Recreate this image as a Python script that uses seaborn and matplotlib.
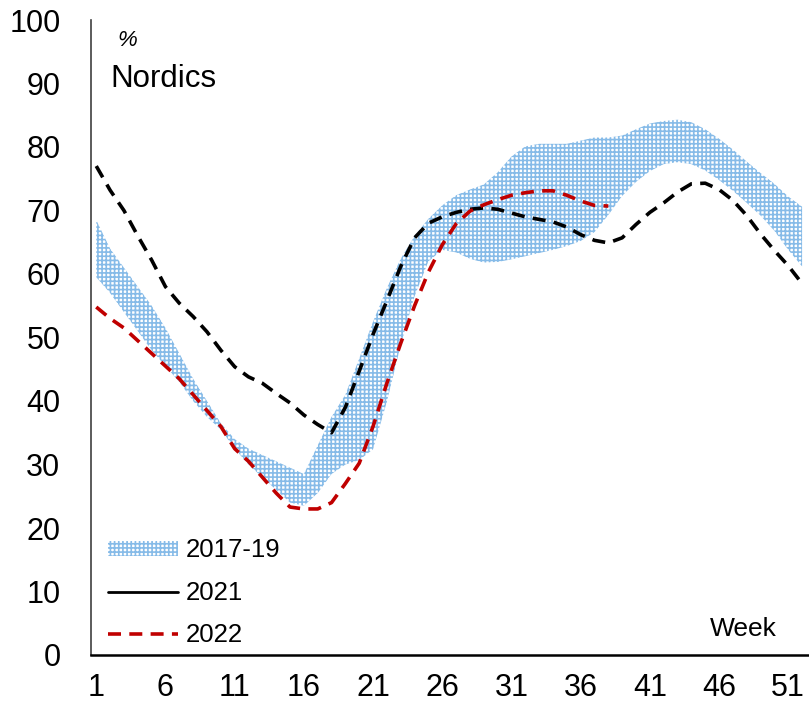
import numpy as np
import pandas as pd
import matplotlib
matplotlib.use("Agg")
import matplotlib.pyplot as plt
from matplotlib.patches import Patch
from matplotlib.lines import Line2D
import seaborn as sns

weeks = list(range(1, 53))

band_upper = [68.5, 64, 61, 58, 55, 51.5, 47.5, 43.5, 40, 36.5,
              34, 32.5, 31.5, 30.5, 29.5, 28.5, 33, 37.5, 41, 46.7,
              52.5, 57.8, 62.4, 66, 68.7, 70.8, 72.4, 73.3, 74.1, 76,
              78.5, 80.1, 80.5, 80.5, 80.5, 81, 81.5, 81.5, 81.8, 82.8,
              83.7, 84.1, 84.3, 83.9, 82.8, 81.3, 79.6, 77.7, 75.9, 74.2,
              72.2, 70.6]
band_lower = [59.5, 57, 54, 51, 48, 45.5, 43, 40, 37.5, 35.5,
              32.5, 30, 28, 26, 24, 23.5, 25.5, 28.5, 30, 30.7,
              32.4, 39.9, 48.8, 56.5, 62, 63.8, 63.4, 62.4, 61.8, 61.9,
              62.3, 62.8, 63.3, 63.8, 64.4, 65.2, 66.6, 69.3, 72.3, 74.5,
              76.2, 77.3, 77.6, 77.3, 76.3, 74.8, 73.1, 71.2, 69.2, 66.8,
              63.8, 61.2]

y2021 = [77, 73.2, 70, 66, 62.2, 58, 55.4, 53.3, 50.9, 48,
         45.4, 43.8, 42.8, 41.2, 39.7, 37.8, 36.3, 35, 39, 44.7,
         50.5, 55.8, 61.2, 65.7, 68, 69, 69.7, 70.2, 70.4, 70.2,
         69.6, 69, 68.6, 68.2, 67.4, 66.2, 65.3, 64.9, 65.7, 67.8,
         69.7, 71.2, 72.9, 74.2, 74.3, 73.3, 71.6, 69.2, 66.3, 63.7,
         61.3, 58.5]

weeks2022 = list(range(1, 39))
y2022 = [54.8, 53, 51.5, 49.5, 47.5, 45.5, 43.5, 41, 38.5, 36,
         32.5, 30.5, 28, 25.5, 23.3, 23, 23, 24, 27, 30.2,
         36, 42.8, 49.1, 55, 60.3, 64.6, 67.9, 69.9, 70.9, 71.7,
         72.4, 72.8, 73.1, 73.1, 72.4, 71.5, 70.8, 70.7]

xticks = [1, 6, 11, 16, 21, 26, 31, 36, 41, 46, 51]
yticks = [0, 10, 20, 30, 40, 50, 60, 70, 80, 90, 100]

sns.set_style("white")
plt.rcParams["font.family"] = ["Liberation Sans", "DejaVu Sans"]
plt.rcParams["hatch.linewidth"] = 1.2
plt.rcParams["text.color"] = "black"
plt.rcParams["xtick.color"] = "black"
plt.rcParams["ytick.color"] = "black"

fig = plt.figure(figsize=(8.09, 7.08), dpi=100)
ax = fig.add_axes([91 / 809, 53 / 708, 718 / 809, 635 / 708])

band_color = "#86bbe8"
ax.fill_between(weeks, band_lower, band_upper, facecolor="white",
                edgecolor=band_color, hatch="++++", linewidth=0, zorder=1)

df21 = pd.DataFrame({"week": weeks, "value": y2021})
df22 = pd.DataFrame({"week": weeks2022, "value": y2022})
dash = (0, (3.6, 2.3))
sns.lineplot(data=df21, x="week", y="value", ax=ax, color="black",
             linewidth=2.6, linestyle=dash, zorder=3)
sns.lineplot(data=df22, x="week", y="value", ax=ax, color="#c00000",
             linewidth=2.6, linestyle=dash, zorder=4)

ax.set_xlim(0.62, 52.5)
ax.set_ylim(0, 100)
ax.set_xticks(xticks)
ax.set_yticks(yticks)
ax.set_xlabel("")
ax.set_ylabel("")
ax.tick_params(axis="both", length=0, labelsize=22, colors="black")
ax.tick_params(axis="y", pad=22)
ax.tick_params(axis="x", pad=13)

for s in ["top", "right"]:
    ax.spines[s].set_visible(False)
ax.spines["left"].set_color("#404040")
ax.spines["left"].set_linewidth(1.2)
ax.spines["bottom"].set_color("black")
ax.spines["bottom"].set_linewidth(1.8)
ax.spines["left"].set_zorder(5)
ax.spines["bottom"].set_zorder(5)

ax.text(0.05, 0.968, "%", transform=ax.transAxes, fontsize=16,
        style="italic", ha="center", va="center")
ax.text(0.0265, 0.894, "Nordics", transform=ax.transAxes, fontsize=22.5,
        ha="left", va="baseline")
ax.text(0.909, 0.030, "Week", transform=ax.transAxes, fontsize=19,
        ha="center", va="baseline")

handles = [
    Patch(facecolor="white", edgecolor=band_color, hatch="++++", linewidth=0),
    Line2D([0], [0], color="black", linewidth=2.0),
    Line2D([0], [0], color="#c00000", linewidth=2.6, linestyle=dash),
]
labels = ["2017-19", "2021", "2022"]
leg = ax.legend(handles, labels, loc="lower left",
                bbox_to_anchor=(0.024, 0.012), frameon=False,
                fontsize=18.5, handlelength=2.7, handleheight=0.5,
                handletextpad=0.3, labelspacing=0.72,
                borderpad=0, borderaxespad=0)

fig.savefig("out.png", dpi=100)
